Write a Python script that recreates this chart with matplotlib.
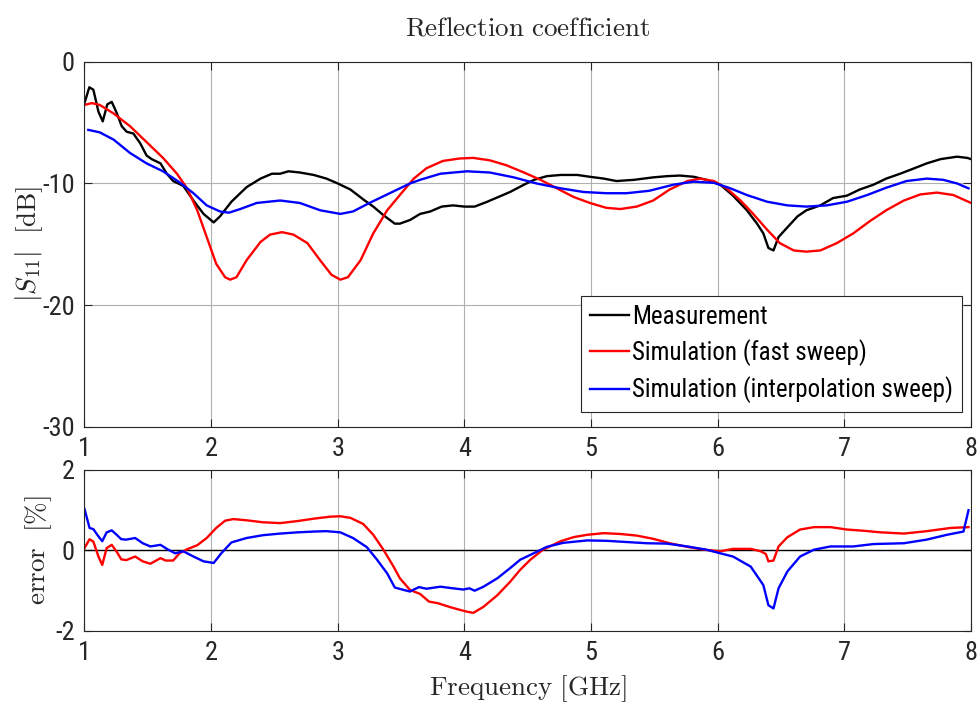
import numpy as np
import matplotlib
matplotlib.use('Agg')
from matplotlib import pyplot as plt
from matplotlib import font_manager

# ---- |S11| in dB ----
f_meas = [1.0, 1.038, 1.07, 1.11, 1.144, 1.18, 1.215, 1.254, 1.294, 1.333, 1.386, 1.44,
          1.49, 1.53, 1.6, 1.65, 1.70, 1.78, 1.86, 1.94, 2.02, 2.07, 2.16, 2.28, 2.39,
          2.48, 2.545, 2.61, 2.70, 2.81, 2.91, 3.00, 3.10, 3.20, 3.28, 3.36, 3.45, 3.49,
          3.57, 3.65, 3.73, 3.82, 3.91, 4.00, 4.08, 4.18, 4.27, 4.36, 4.47, 4.55, 4.65,
          4.76, 4.89, 4.99, 5.10, 5.20, 5.34, 5.49, 5.60, 5.70, 5.81, 5.91, 6.02, 6.12,
          6.23, 6.31, 6.36, 6.40, 6.44, 6.48, 6.55, 6.63, 6.70, 6.81, 6.91, 7.02, 7.12,
          7.23, 7.33, 7.44, 7.54, 7.65, 7.76, 7.89, 7.97, 8.0]
s_meas = [-3.4, -2.1, -2.3, -4.1, -4.9, -3.5, -3.3, -4.2, -5.3, -5.75, -5.9, -6.7,
          -7.7, -8.0, -8.35, -9.2, -9.8, -10.2, -11.4, -12.5, -13.2, -12.7, -11.5, -10.3, -9.6,
          -9.2, -9.2, -9.0, -9.1, -9.3, -9.6, -10.0, -10.5, -11.3, -11.9, -12.6, -13.3, -13.3,
          -13.0, -12.5, -12.3, -11.9, -11.8, -11.9, -11.9, -11.5, -11.1, -10.7, -10.1, -9.7, -9.4,
          -9.3, -9.3, -9.45, -9.6, -9.8, -9.7, -9.5, -9.4, -9.35, -9.45, -9.7, -10.1, -11.0,
          -12.2, -13.3, -14.1, -15.3, -15.5, -14.4, -13.6, -12.7, -12.2, -11.8, -11.2, -11.0, -10.5,
          -10.1, -9.6, -9.2, -8.8, -8.35, -8.0, -7.8, -7.9, -8.0]

f_fast = [1.0, 1.057, 1.12, 1.23, 1.36, 1.49, 1.62, 1.73, 1.81, 1.89, 1.965, 2.04, 2.11,
          2.15, 2.20, 2.28, 2.39, 2.465, 2.56, 2.65, 2.76, 2.86, 2.95, 3.02, 3.08, 3.18,
          3.28, 3.39, 3.49, 3.60, 3.70, 3.83, 3.96, 4.07, 4.20, 4.33, 4.47, 4.60, 4.73,
          4.86, 4.99, 5.12, 5.23, 5.36, 5.49, 5.62, 5.76, 5.86, 5.97, 6.07, 6.18, 6.28,
          6.39, 6.49, 6.60, 6.70, 6.81, 6.94, 7.07, 7.20, 7.33, 7.47, 7.60, 7.73, 7.86, 8.0]
s_fast = [-3.55, -3.4, -3.55, -4.25, -5.3, -6.6, -7.9, -9.2, -10.4, -12.2, -14.4, -16.6, -17.7,
          -17.9, -17.7, -16.3, -14.8, -14.2, -14.0, -14.2, -14.9, -16.3, -17.5, -17.9, -17.7, -16.3,
          -14.1, -12.2, -10.95, -9.6, -8.75, -8.15, -7.95, -7.9, -8.1, -8.5, -9.1, -9.7, -10.4,
          -11.1, -11.6, -12.0, -12.1, -11.9, -11.4, -10.5, -9.8, -9.6, -9.8, -10.4, -11.4, -12.5,
          -13.8, -14.9, -15.5, -15.6, -15.5, -14.9, -14.1, -13.1, -12.2, -11.4, -10.9, -10.75, -10.95, -11.6]

f_interp = [1.03, 1.12, 1.23, 1.36, 1.49, 1.62, 1.75, 1.86, 1.965, 2.07, 2.14, 2.23, 2.36,
            2.545, 2.70, 2.86, 3.02, 3.12, 3.25, 3.41, 3.57, 3.65, 3.81, 4.02, 4.20, 4.39,
            4.57, 4.76, 4.94, 5.12, 5.28, 5.46, 5.65, 5.81, 5.97, 6.10, 6.23, 6.39, 6.55,
            6.70, 6.86, 7.02, 7.18, 7.33, 7.49, 7.65, 7.78, 7.89, 7.98]
s_interp = [-5.6, -5.8, -6.4, -7.5, -8.35, -9.0, -9.9, -10.8, -11.8, -12.3, -12.4, -12.1, -11.6,
            -11.4, -11.6, -12.2, -12.5, -12.3, -11.6, -10.8, -10.0, -9.7, -9.2, -9.0, -9.1, -9.5,
            -10.0, -10.4, -10.7, -10.8, -10.8, -10.6, -10.1, -9.85, -9.95, -10.4, -10.95, -11.5, -11.8,
            -11.9, -11.8, -11.5, -10.95, -10.35, -9.8, -9.6, -9.7, -10.0, -10.4]

# ---- relative error in % ----
f_err_fast = [1.0, 1.04, 1.07, 1.11, 1.14, 1.175, 1.215, 1.254, 1.29, 1.33, 1.40, 1.46, 1.52,
              1.60, 1.64, 1.70, 1.75, 1.81, 1.89, 1.965, 2.04, 2.11, 2.175, 2.28, 2.41, 2.545,
              2.68, 2.81, 2.94, 3.02, 3.10, 3.20, 3.28, 3.36, 3.44, 3.49, 3.57, 3.65, 3.72,
              3.79, 3.89, 3.97, 4.02, 4.07, 4.15, 4.26, 4.36, 4.44, 4.52, 4.62, 4.76, 4.86,
              4.97, 5.10, 5.23, 5.36, 5.49, 5.62, 5.76, 5.89, 6.02, 6.12, 6.26, 6.34, 6.38,
              6.40, 6.44, 6.48, 6.55, 6.65, 6.76, 6.89, 7.02, 7.15, 7.29, 7.47, 7.65, 7.84, 7.98]
e_fast = [0.06, 0.28, 0.22, -0.15, -0.36, 0.06, 0.14, -0.03, -0.22, -0.24, -0.15, -0.27, -0.33,
          -0.19, -0.25, -0.25, -0.07, 0.03, 0.13, 0.31, 0.56, 0.74, 0.78, 0.75, 0.70, 0.68,
          0.73, 0.79, 0.84, 0.85, 0.81, 0.66, 0.39, 0.02, -0.40, -0.69, -0.98, -1.08, -1.27,
          -1.31, -1.41, -1.48, -1.52, -1.55, -1.40, -1.11, -0.78, -0.48, -0.23, 0.02, 0.23, 0.33,
          0.39, 0.43, 0.41, 0.37, 0.29, 0.18, 0.09, 0.02, -0.02, 0.04, 0.04, -0.02, -0.09,
          -0.27, -0.25, 0.10, 0.33, 0.52, 0.58, 0.58, 0.52, 0.49, 0.45, 0.42, 0.48, 0.56, 0.58]

f_err_interp = [1.0, 1.04, 1.07, 1.11, 1.14, 1.175, 1.215, 1.254, 1.29, 1.33, 1.40, 1.46, 1.52,
                1.60, 1.65, 1.715, 1.78, 1.86, 1.94, 2.02, 2.08, 2.16, 2.28, 2.41, 2.545, 2.68,
                2.81, 2.91, 3.02, 3.12, 3.23, 3.31, 3.39, 3.45, 3.52, 3.57, 3.64, 3.70, 3.81,
                3.91, 3.99, 4.04, 4.08, 4.15, 4.26, 4.36, 4.44, 4.52, 4.65, 4.78, 4.97, 5.12,
                5.28, 5.44, 5.60, 5.76, 5.91, 6.02, 6.12, 6.26, 6.36, 6.40, 6.44, 6.48, 6.55,
                6.65, 6.76, 6.89, 7.07, 7.23, 7.47, 7.65, 7.81, 7.94, 7.98]
e_interp = [1.03, 0.56, 0.53, 0.35, 0.23, 0.45, 0.50, 0.39, 0.28, 0.27, 0.31, 0.18, 0.10,
            0.14, 0.04, -0.07, -0.02, -0.15, -0.27, -0.31, -0.07, 0.20, 0.31, 0.38, 0.42, 0.45,
            0.47, 0.48, 0.45, 0.31, 0.08, -0.23, -0.57, -0.92, -0.98, -1.02, -0.91, -0.95, -0.90,
            -0.94, -0.97, -0.94, -1.00, -0.90, -0.69, -0.44, -0.23, -0.11, 0.09, 0.19, 0.25, 0.24,
            0.21, 0.18, 0.17, 0.10, 0.02, -0.07, -0.15, -0.40, -0.86, -1.36, -1.44, -0.94, -0.52,
            -0.15, 0.02, 0.10, 0.10, 0.16, 0.18, 0.27, 0.39, 0.47, 1.0]

freq_ticks = [1, 2, 3, 4, 5, 6, 7, 8]

# MATLAB-like narrow sans if there is one, else plain Liberation Sans a bit smaller
have = set(f.name for f in font_manager.fontManager.ttflist)
narrow = [n for n in ['Liberation Sans Narrow', 'Roboto Condensed', 'Open Sans Condensed',
                      'Arial Narrow'] if n in have]
if narrow:
    plt.rcParams['font.family'] = [narrow[0], 'DejaVu Sans']
    tick_fs, leg_fs = 19, 18
else:
    plt.rcParams['font.family'] = ['Liberation Sans', 'DejaVu Sans']
    tick_fs, leg_fs = 16, 16
plt.rcParams['mathtext.fontset'] = 'cm'
plt.rcParams['axes.unicode_minus'] = False

txt_col = '#262626'
grid_col = '#b0b0b0'

fig = plt.figure(figsize=(9.78, 7.15), dpi=100)
ax1 = fig.add_axes([0.0864, 0.4028, 0.9065, 0.5109])
ax2 = fig.add_axes([0.0864, 0.1175, 0.9065, 0.2252])

ax1.plot(f_meas, s_meas, color='k', lw=1.7, label='Measurement')
ax1.plot(f_fast, s_fast, color=(1, 0, 0), lw=1.7, label='Simulation (fast sweep)')
ax1.plot(f_interp, s_interp, color=(0, 0, 1), lw=1.7, label='Simulation (interpolation sweep)')

ax2.axhline(0, color='k', lw=1.0)
ax2.plot(f_err_fast, e_fast, color=(1, 0, 0), lw=1.7)
ax2.plot(f_err_interp, e_interp, color=(0, 0, 1), lw=1.7)

ax1.set_ylim(-30, 0)
ax1.set_yticks([-30, -20, -10, 0])
ax2.set_ylim(-2, 2)
ax2.set_yticks([-2, 0, 2])

for ax in (ax1, ax2):
    ax.set_xlim(1, 8)
    ax.set_xticks(freq_ticks)
    ax.grid(True, color=grid_col, lw=0.8)
    ax.set_axisbelow(True)
    ax.tick_params(direction='in', length=6, width=0.8, top=True, right=True,
                   labelsize=tick_fs, colors=txt_col, pad=7)
    for sp in ax.spines.values():
        sp.set_color(txt_col)
        sp.set_linewidth(0.8)

ax1.set_title(r'$\mathrm{Reflection\ coefficient}$', fontsize=19.5, color=txt_col, pad=19)
ax1.set_ylabel(r'$|S_{11}|\ \ [\mathrm{dB}]$', fontsize=19.5, color=txt_col)
ax1.yaxis.set_label_coords(-0.045, 0.5)
ax2.set_ylabel(r'$\mathrm{error}\ \ [\%]$', fontsize=19.5, color=txt_col)
ax2.yaxis.set_label_coords(-0.034, 0.5)
ax2.set_xlabel(r'$\mathrm{Frequency}\ [\mathrm{GHz}]$', fontsize=19.5, color=txt_col, labelpad=6)

leg = ax1.legend(loc='lower right', bbox_to_anchor=(0.9898, 0.041), borderaxespad=0,
                 fontsize=leg_fs, fancybox=False, framealpha=1, edgecolor=txt_col,
                 handlelength=1.55, handletextpad=0.15, labelspacing=0.42, borderpad=0.35)
leg.get_frame().set_linewidth(0.8)
for t in leg.get_texts():
    t.set_color('k')

fig.savefig('out.png', dpi=100)
